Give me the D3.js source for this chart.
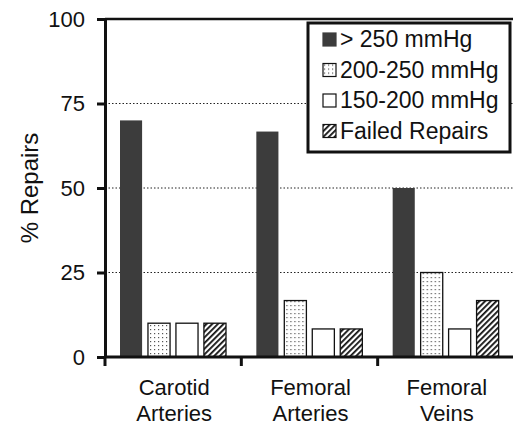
<!DOCTYPE html>
<html>
<head>
<meta charset="utf-8">
<script src="https://cdn.jsdelivr.net/npm/d3@7"></script>
<style>
body{margin:0;background:#fff}
svg text{font-family:"Liberation Sans",Arial,sans-serif;fill:#111}
</style>
</head>
<body>
<svg id="chart" width="513" height="428"></svg>
<script>
// data
var categories=["Carotid Arteries","Femoral Arteries","Femoral Veins"]
var seriesNames=["> 250 mmHg","200-250 mmHg","150-200 mmHg","Failed Repairs"]
var over250=[70,66.7,50]
var from200to250=[10,16.7,25]
var from150to200=[10,8.3,8.3]
var failedRepairs=[10,8.3,16.7]
var yTicks=[0,25,50,75,100]

var svg=d3.select("#chart")
var mLeft=105,mRight=514,mTop=19,mBottom=357

// patterns
var defs=svg.append("defs")
var dots=defs.append("pattern").attr("id","dots").attr("patternUnits","userSpaceOnUse")
  .attr("width",4).attr("height",4)
dots.append("rect").attr("width",4).attr("height",4).attr("fill","#fff")
dots.append("rect").attr("x",1).attr("y",1).attr("width",1.2).attr("height",1.2).attr("fill","#555")
var hatch=defs.append("pattern").attr("id","hatch").attr("patternUnits","userSpaceOnUse")
  .attr("width",4).attr("height",4).attr("patternTransform","rotate(45)")
hatch.append("rect").attr("width",4).attr("height",4).attr("fill","#fff")
hatch.append("rect").attr("x",0).attr("y",0).attr("width",1.8).attr("height",4).attr("fill","#111")

var fills=["#3c3c3c","url(#dots)","#fff","url(#hatch)"]
var strokes=["none","#111","#111","#111"]

var y=d3.scaleLinear().domain([0,100]).range([mBottom,mTop])
var x0=d3.scaleBand().domain(categories).range([mLeft,mRight])
var x1=d3.scaleBand().domain(seriesNames).range([15,121]).paddingInner(0.21)

// grid lines
svg.append("g").selectAll("line").data([25,50,75]).enter().append("line")
  .attr("x1",mLeft).attr("x2",mRight).attr("y1",d=>y(d)).attr("y2",d=>y(d))
  .attr("stroke","#222").attr("stroke-width",1).attr("stroke-dasharray","1.5,2")

// bars
var table=categories.map((c,i)=>({cat:c,vals:[over250[i],from200to250[i],from150to200[i],failedRepairs[i]]}))
var groups=svg.append("g").selectAll("g").data(table).enter().append("g")
  .attr("transform",d=>"translate("+x0(d.cat)+",0)")
groups.selectAll("rect").data(d=>d.vals.map((v,k)=>({s:seriesNames[k],v:v,k:k}))).enter().append("rect")
  .attr("x",d=>x1(d.s)).attr("width",x1.bandwidth())
  .attr("y",d=>y(d.v)).attr("height",d=>mBottom-y(d.v))
  .attr("fill",d=>fills[d.k]).attr("stroke",d=>strokes[d.k]).attr("stroke-width",1.3)

// frame: top line, baseline
svg.append("line").attr("x1",mLeft).attr("x2",mRight).attr("y1",mTop).attr("y2",mTop)
  .attr("stroke","#111").attr("stroke-width",2.5)
svg.append("line").attr("x1",mLeft).attr("x2",mRight).attr("y1",mBottom).attr("y2",mBottom)
  .attr("stroke","#111").attr("stroke-width",3)

var yAxis=svg.append("g").attr("transform","translate("+mLeft+",0)")
  .call(d3.axisLeft(y).tickValues(yTicks).tickSize(8).tickPadding(12).tickSizeOuter(0))
yAxis.select(".domain").attr("stroke","#111").attr("stroke-width",3)
yAxis.selectAll(".tick line").attr("stroke","#111").attr("stroke-width",3)
yAxis.selectAll(".tick text").attr("font-size","22px").attr("font-family","Liberation Sans, Arial, sans-serif").attr("fill","#111")

// category ticks under baseline
svg.append("g").selectAll("line").data(categories).enter().append("line")
  .attr("x1",d=>x0(d)).attr("x2",d=>x0(d)).attr("y1",mBottom).attr("y2",mBottom+9)
  .attr("stroke","#111").attr("stroke-width",3)

// category labels
var catLab=svg.append("g").selectAll("text").data(categories).enter().append("text")
  .attr("x",d=>x0(d)+x0.bandwidth()/2+1).attr("y",395).attr("text-anchor","middle").attr("font-size","22px")
catLab.append("tspan").text(d=>d.split(" ")[0])
catLab.append("tspan").attr("x",d=>x0(d)+x0.bandwidth()/2+1).attr("dy",26).text(d=>d.split(" ")[1])

// y title
svg.append("text").attr("transform","translate(38,188) rotate(-90)").attr("text-anchor","middle")
  .attr("font-size","24px").text("% Repairs")

// legend
var lg=svg.append("g").attr("transform","translate(308,23)")
lg.append("rect").attr("width",202).attr("height",129).attr("fill","#fff").attr("stroke","#111").attr("stroke-width",3)
var items=lg.selectAll("g").data(seriesNames).enter().append("g")
  .attr("transform",(d,i)=>"translate(15,"+(10+i*30.5)+")")
items.append("rect").attr("width",13).attr("height",13)
  .attr("fill",(d,i)=>fills[i]).attr("stroke",(d,i)=>i==0?"#3c3c3c":"#111").attr("stroke-width",1.2)
items.append("text").attr("x",17).attr("y",14).attr("font-size","23px").text(d=>d)
</script>
</body>
</html>
